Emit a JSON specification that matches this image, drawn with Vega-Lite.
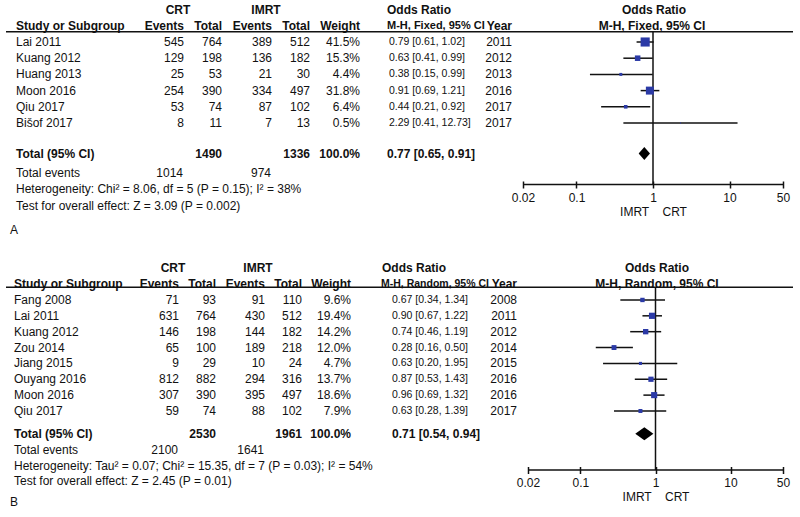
{
"$schema": "https://vega.github.io/schema/vega-lite/v6.json",
"width": 800, "height": 517, "padding": 0, "autosize": {"type": "none"},
"background": "white",
"config": {"view": {"stroke": null}, "text": {"font": "Liberation Sans", "fontSize": 12, "baseline": "middle", "color": "#111"}},
"datasets": {
 "studiesA": [
  {"row":1,"study":"Lai 2011","crt_e":545,"crt_t":764,"imrt_e":389,"imrt_t":512,"weight":0.415,"or":0.79,"lo":0.61,"hi":1.02,"ci":"0.79 [0.61, 1.02]","year":2011},
  {"row":2,"study":"Kuang 2012","crt_e":129,"crt_t":198,"imrt_e":136,"imrt_t":182,"weight":0.153,"or":0.63,"lo":0.41,"hi":0.99,"ci":"0.63 [0.41, 0.99]","year":2012},
  {"row":3,"study":"Huang 2013","crt_e":25,"crt_t":53,"imrt_e":21,"imrt_t":30,"weight":0.044,"or":0.38,"lo":0.15,"hi":0.99,"ci":"0.38 [0.15, 0.99]","year":2013},
  {"row":4,"study":"Moon 2016","crt_e":254,"crt_t":390,"imrt_e":334,"imrt_t":497,"weight":0.318,"or":0.91,"lo":0.69,"hi":1.21,"ci":"0.91 [0.69, 1.21]","year":2016},
  {"row":5,"study":"Qiu 2017","crt_e":53,"crt_t":74,"imrt_e":87,"imrt_t":102,"weight":0.064,"or":0.44,"lo":0.21,"hi":0.92,"ci":"0.44 [0.21, 0.92]","year":2017},
  {"row":6,"study":"Bišof 2017","crt_e":8,"crt_t":11,"imrt_e":7,"imrt_t":13,"weight":0.005,"or":2.29,"lo":0.41,"hi":12.73,"ci":"2.29 [0.41, 12.73]","year":2017}
 ],
 "totalA": [{"row":8,"label":"Total (95% CI)","crt_t":1490,"imrt_t":1336,"weight":1.0,"or":0.77,"lo":0.65,"hi":0.91,"ci":"0.77 [0.65, 0.91]"}],
 "eventsA": [{"row":9,"label":"Total events","crt":1014,"imrt":974}],
 "notesA": [
  {"row":10,"text":"Heterogeneity: Chi² = 8.06, df = 5 (P = 0.15); I² = 38%"},
  {"row":11,"text":"Test for overall effect: Z = 3.09 (P = 0.002)"}
 ],
 "studiesB": [
  {"row":1,"study":"Fang 2008","crt_e":71,"crt_t":93,"imrt_e":91,"imrt_t":110,"weight":0.096,"or":0.67,"lo":0.34,"hi":1.34,"ci":"0.67 [0.34, 1.34]","year":2008},
  {"row":2,"study":"Lai 2011","crt_e":631,"crt_t":764,"imrt_e":430,"imrt_t":512,"weight":0.194,"or":0.90,"lo":0.67,"hi":1.22,"ci":"0.90 [0.67, 1.22]","year":2011},
  {"row":3,"study":"Kuang 2012","crt_e":146,"crt_t":198,"imrt_e":144,"imrt_t":182,"weight":0.142,"or":0.74,"lo":0.46,"hi":1.19,"ci":"0.74 [0.46, 1.19]","year":2012},
  {"row":4,"study":"Zou 2014","crt_e":65,"crt_t":100,"imrt_e":189,"imrt_t":218,"weight":0.120,"or":0.28,"lo":0.16,"hi":0.50,"ci":"0.28 [0.16, 0.50]","year":2014},
  {"row":5,"study":"Jiang 2015","crt_e":9,"crt_t":29,"imrt_e":10,"imrt_t":24,"weight":0.047,"or":0.63,"lo":0.20,"hi":1.95,"ci":"0.63 [0.20, 1.95]","year":2015},
  {"row":6,"study":"Ouyang 2016","crt_e":812,"crt_t":882,"imrt_e":294,"imrt_t":316,"weight":0.137,"or":0.87,"lo":0.53,"hi":1.43,"ci":"0.87 [0.53, 1.43]","year":2016},
  {"row":7,"study":"Moon 2016","crt_e":307,"crt_t":390,"imrt_e":395,"imrt_t":497,"weight":0.186,"or":0.96,"lo":0.69,"hi":1.32,"ci":"0.96 [0.69, 1.32]","year":2016},
  {"row":8,"study":"Qiu 2017","crt_e":59,"crt_t":74,"imrt_e":88,"imrt_t":102,"weight":0.079,"or":0.63,"lo":0.28,"hi":1.39,"ci":"0.63 [0.28, 1.39]","year":2017}
 ],
 "totalB": [{"row":9,"label":"Total (95% CI)","crt_t":2530,"imrt_t":1961,"weight":1.0,"or":0.71,"lo":0.54,"hi":0.94,"ci":"0.71 [0.54, 0.94]"}],
 "eventsB": [{"row":10,"label":"Total events","crt":2100,"imrt":1641}],
 "notesB": [
  {"row":11,"text":"Heterogeneity: Tau² = 0.07; Chi² = 15.35, df = 7 (P = 0.03); I² = 54%"},
  {"row":12,"text":"Test for overall effect: Z = 2.45 (P = 0.01)"}
 ]
},
"layer": [
 {
  "layer": [
   {
    "layer": [
     {"data":{"values":[{}]},"mark":{"type":"text","align":"center","fontWeight":"bold","text":"CRT"},"encoding":{"x":{"datum":178,"type":"quantitative","scale":{"domain":[0,800],"range":[0,800],"nice":false,"zero":false},"axis":null},"y":{"datum":-1,"type":"quantitative","scale":{"domain":[-1,13],"range":[9.6,236.4],"nice":false,"zero":false},"axis":null}}},
     {"data":{"values":[{}]},"mark":{"type":"text","align":"center","fontWeight":"bold","text":"IMRT"},"encoding":{"x":{"datum":266,"type":"quantitative"},"y":{"datum":-1,"type":"quantitative"}}},
     {"data":{"values":[{}]},"mark":{"type":"text","align":"left","fontWeight":"bold","text":"Odds Ratio"},"encoding":{"x":{"datum":387,"type":"quantitative"},"y":{"datum":-1,"type":"quantitative"}}},
     {"data":{"values":[{}]},"mark":{"type":"text","align":"center","fontWeight":"bold","text":"Odds Ratio"},"encoding":{"x":{"datum":654,"type":"quantitative"},"y":{"datum":-1,"type":"quantitative"}}},
     {"data":{"values":[{}]},"mark":{"type":"text","align":"left","fontWeight":"bold","text":"Study or Subgroup"},"encoding":{"x":{"datum":16,"type":"quantitative"},"y":{"datum":0,"type":"quantitative"}}},
     {"data":{"values":[{}]},"mark":{"type":"text","align":"right","fontWeight":"bold","text":"Events"},"encoding":{"x":{"datum":184,"type":"quantitative"},"y":{"datum":0,"type":"quantitative"}}},
     {"data":{"values":[{}]},"mark":{"type":"text","align":"right","fontWeight":"bold","text":"Total"},"encoding":{"x":{"datum":222,"type":"quantitative"},"y":{"datum":0,"type":"quantitative"}}},
     {"data":{"values":[{}]},"mark":{"type":"text","align":"right","fontWeight":"bold","text":"Events"},"encoding":{"x":{"datum":272,"type":"quantitative"},"y":{"datum":0,"type":"quantitative"}}},
     {"data":{"values":[{}]},"mark":{"type":"text","align":"right","fontWeight":"bold","text":"Total"},"encoding":{"x":{"datum":310,"type":"quantitative"},"y":{"datum":0,"type":"quantitative"}}},
     {"data":{"values":[{}]},"mark":{"type":"text","align":"right","fontWeight":"bold","text":"Weight"},"encoding":{"x":{"datum":360,"type":"quantitative"},"y":{"datum":0,"type":"quantitative"}}},
     {"data":{"values":[{}]},"mark":{"type":"text","align":"left","fontWeight":"bold","fontSize":11,"text":"M-H, Fixed, 95% CI"},"encoding":{"x":{"datum":387,"type":"quantitative"},"y":{"datum":0,"type":"quantitative"}}},
     {"data":{"values":[{}]},"mark":{"type":"text","align":"right","fontWeight":"bold","text":"Year"},"encoding":{"x":{"datum":512,"type":"quantitative"},"y":{"datum":0,"type":"quantitative"}}},
     {"data":{"values":[{}]},"mark":{"type":"text","align":"center","fontWeight":"bold","text":"M-H, Fixed, 95% CI"},"encoding":{"x":{"datum":652,"type":"quantitative"},"y":{"datum":0,"type":"quantitative"}}},
     {"data":{"values":[{}]},"mark":{"type":"rule","color":"#111","strokeWidth":1.5},"encoding":{"x":{"datum":6,"type":"quantitative"},"x2":{"datum":793},"y":{"datum":0.36,"type":"quantitative"}}},
     {"data":{"name":"studiesA"},"mark":{"type":"text","align":"left"},"encoding":{"x":{"datum":16,"type":"quantitative"},"y":{"field":"row","type":"quantitative"},"text":{"field":"study","type":"nominal"}}},
     {"data":{"name":"studiesA"},"mark":{"type":"text","align":"right"},"encoding":{"x":{"datum":184,"type":"quantitative"},"y":{"field":"row","type":"quantitative"},"text":{"field":"crt_e","type":"nominal"}}},
     {"data":{"name":"studiesA"},"mark":{"type":"text","align":"right"},"encoding":{"x":{"datum":222,"type":"quantitative"},"y":{"field":"row","type":"quantitative"},"text":{"field":"crt_t","type":"nominal"}}},
     {"data":{"name":"studiesA"},"mark":{"type":"text","align":"right"},"encoding":{"x":{"datum":272,"type":"quantitative"},"y":{"field":"row","type":"quantitative"},"text":{"field":"imrt_e","type":"nominal"}}},
     {"data":{"name":"studiesA"},"mark":{"type":"text","align":"right"},"encoding":{"x":{"datum":310,"type":"quantitative"},"y":{"field":"row","type":"quantitative"},"text":{"field":"imrt_t","type":"nominal"}}},
     {"data":{"name":"studiesA"},"mark":{"type":"text","align":"right"},"encoding":{"x":{"datum":360,"type":"quantitative"},"y":{"field":"row","type":"quantitative"},"text":{"field":"weight","type":"quantitative","format":".1%"}}},
     {"data":{"name":"studiesA"},"mark":{"type":"text","align":"left","fontSize":10.5},"encoding":{"x":{"datum":389,"type":"quantitative"},"y":{"field":"row","type":"quantitative"},"text":{"field":"ci","type":"nominal"}}},
     {"data":{"name":"studiesA"},"mark":{"type":"text","align":"right"},"encoding":{"x":{"datum":512,"type":"quantitative"},"y":{"field":"row","type":"quantitative"},"text":{"field":"year","type":"nominal"}}},
     {"data":{"name":"totalA"},"mark":{"type":"text","align":"left","fontWeight":"bold","yOffset":-1},"encoding":{"x":{"datum":16,"type":"quantitative"},"y":{"field":"row","type":"quantitative"},"text":{"field":"label","type":"nominal"}}},
     {"data":{"name":"totalA"},"mark":{"type":"text","align":"right","fontWeight":"bold","yOffset":-1},"encoding":{"x":{"datum":222,"type":"quantitative"},"y":{"field":"row","type":"quantitative"},"text":{"field":"crt_t","type":"nominal"}}},
     {"data":{"name":"totalA"},"mark":{"type":"text","align":"right","fontWeight":"bold","yOffset":-1},"encoding":{"x":{"datum":310,"type":"quantitative"},"y":{"field":"row","type":"quantitative"},"text":{"field":"imrt_t","type":"nominal"}}},
     {"data":{"name":"totalA"},"mark":{"type":"text","align":"right","fontWeight":"bold","yOffset":-1},"encoding":{"x":{"datum":360,"type":"quantitative"},"y":{"field":"row","type":"quantitative"},"text":{"field":"weight","type":"quantitative","format":".1%"}}},
     {"data":{"name":"totalA"},"mark":{"type":"text","align":"left","fontWeight":"bold","yOffset":-1},"encoding":{"x":{"datum":387,"type":"quantitative"},"y":{"field":"row","type":"quantitative"},"text":{"field":"ci","type":"nominal"}}},
     {"data":{"name":"eventsA"},"mark":{"type":"text","align":"left","yOffset":1},"encoding":{"x":{"datum":16,"type":"quantitative"},"y":{"field":"row","type":"quantitative"},"text":{"field":"label","type":"nominal"}}},
     {"data":{"name":"eventsA"},"mark":{"type":"text","align":"right","yOffset":1},"encoding":{"x":{"datum":183,"type":"quantitative"},"y":{"field":"row","type":"quantitative"},"text":{"field":"crt","type":"nominal"}}},
     {"data":{"name":"eventsA"},"mark":{"type":"text","align":"right","yOffset":1},"encoding":{"x":{"datum":271,"type":"quantitative"},"y":{"field":"row","type":"quantitative"},"text":{"field":"imrt","type":"nominal"}}},
     {"data":{"name":"notesA"},"mark":{"type":"text","align":"left","yOffset":1.5},"encoding":{"x":{"datum":16,"type":"quantitative"},"y":{"field":"row","type":"quantitative"},"text":{"field":"text","type":"nominal"}}},
     {"data":{"values":[{}]},"mark":{"type":"text","align":"left","text":"A"},"encoding":{"x":{"datum":10,"type":"quantitative"},"y":{"datum":12.6,"type":"quantitative"}}}
    ]
   },
   {
    "layer": [
     {"data":{"values":[{}]},"mark":{"type":"rule","color":"#111","strokeWidth":1.5},"encoding":{"x":{"datum":1,"type":"quantitative","scale":{"type":"log","domain":[0.02,50],"range":[523,783],"nice":false},"axis":{"orient":"bottom","offset":-336,"values":[0.02,0.1,1,10,50],"domain":false,"ticks":true,"tickSize":7,"tickWidth":1.5,"tickColor":"#111","grid":false,"labelFont":"Liberation Sans","labelFontSize":12,"labelColor":"#111","labelPadding":4,"labelFlush":false,"labelOverlap":false,"labelExpr":"format(datum.value, '~g')","title":"IMRT\u00a0\u00a0\u00a0\u00a0CRT","titleFont":"Liberation Sans","titleFontSize":12,"titleFontWeight":"normal","titleColor":"#111","titlePadding":3}},"y":{"datum":0.36,"type":"quantitative","scale":{"domain":[-1,13],"range":[9.6,236.4],"nice":false,"zero":false},"axis":null},"y2":{"datum":9.8}}},
     {"data":{"values":[{}]},"mark":{"type":"rule","color":"#111","strokeWidth":1.5},"encoding":{"x":{"datum":0.02,"type":"quantitative"},"x2":{"datum":50},"y":{"datum":9.8,"type":"quantitative"}}},
     {"data":{"name":"studiesA"},"mark":{"type":"rule","color":"#111","strokeWidth":1.5},"encoding":{"x":{"field":"lo","type":"quantitative"},"x2":{"field":"hi"},"y":{"field":"row","type":"quantitative"}}},
     {"data":{"name":"studiesA"},"mark":{"type":"square","filled":true,"opacity":1,"color":"#2b3aa6"},"encoding":{"x":{"field":"or","type":"quantitative"},"y":{"field":"row","type":"quantitative"},"size":{"field":"weight","type":"quantitative","scale":{"domain":[0,0.5],"range":[0,100]},"legend":null}}},
     {"data":{"name":"totalA"},"mark":{"type":"point","filled":true,"opacity":1,"color":"#000","shape":"M-1,0L0,-1.15L1,0L0,1.15Z","size":128,"yOffset":-2},"encoding":{"x":{"field":"or","type":"quantitative"},"y":{"field":"row","type":"quantitative"}}}
    ]
   }
  ],
  "resolve": {"scale": {"x": "independent"}}
 },
 {
  "layer": [
   {
    "layer": [
     {"data":{"values":[{}]},"mark":{"type":"text","align":"center","fontWeight":"bold","text":"CRT"},"encoding":{"x":{"datum":173,"type":"quantitative","scale":{"domain":[0,800],"range":[0,800],"nice":false,"zero":false},"axis":null},"y":{"datum":-1,"type":"quantitative","scale":{"domain":[-1,14],"range":[268.24,506.14],"nice":false,"zero":false},"axis":null}}},
     {"data":{"values":[{}]},"mark":{"type":"text","align":"center","fontWeight":"bold","text":"IMRT"},"encoding":{"x":{"datum":258,"type":"quantitative"},"y":{"datum":-1,"type":"quantitative"}}},
     {"data":{"values":[{}]},"mark":{"type":"text","align":"left","fontWeight":"bold","text":"Odds Ratio"},"encoding":{"x":{"datum":382,"type":"quantitative"},"y":{"datum":-1,"type":"quantitative"}}},
     {"data":{"values":[{}]},"mark":{"type":"text","align":"center","fontWeight":"bold","text":"Odds Ratio"},"encoding":{"x":{"datum":657,"type":"quantitative"},"y":{"datum":-1,"type":"quantitative"}}},
     {"data":{"values":[{}]},"mark":{"type":"text","align":"left","fontWeight":"bold","text":"Study or Subgroup"},"encoding":{"x":{"datum":14,"type":"quantitative"},"y":{"datum":0,"type":"quantitative"}}},
     {"data":{"values":[{}]},"mark":{"type":"text","align":"right","fontWeight":"bold","text":"Events"},"encoding":{"x":{"datum":179,"type":"quantitative"},"y":{"datum":0,"type":"quantitative"}}},
     {"data":{"values":[{}]},"mark":{"type":"text","align":"right","fontWeight":"bold","text":"Total"},"encoding":{"x":{"datum":216,"type":"quantitative"},"y":{"datum":0,"type":"quantitative"}}},
     {"data":{"values":[{}]},"mark":{"type":"text","align":"right","fontWeight":"bold","text":"Events"},"encoding":{"x":{"datum":265,"type":"quantitative"},"y":{"datum":0,"type":"quantitative"}}},
     {"data":{"values":[{}]},"mark":{"type":"text","align":"right","fontWeight":"bold","text":"Total"},"encoding":{"x":{"datum":302,"type":"quantitative"},"y":{"datum":0,"type":"quantitative"}}},
     {"data":{"values":[{}]},"mark":{"type":"text","align":"right","fontWeight":"bold","text":"Weight"},"encoding":{"x":{"datum":351,"type":"quantitative"},"y":{"datum":0,"type":"quantitative"}}},
     {"data":{"values":[{}]},"mark":{"type":"text","align":"left","fontWeight":"bold","fontSize":10.5,"text":"M-H, Random, 95% CI"},"encoding":{"x":{"datum":381,"type":"quantitative"},"y":{"datum":0,"type":"quantitative"}}},
     {"data":{"values":[{}]},"mark":{"type":"text","align":"right","fontWeight":"bold","text":"Year"},"encoding":{"x":{"datum":517,"type":"quantitative"},"y":{"datum":0,"type":"quantitative"}}},
     {"data":{"values":[{}]},"mark":{"type":"text","align":"center","fontWeight":"bold","text":"M-H, Random, 95% CI"},"encoding":{"x":{"datum":657,"type":"quantitative"},"y":{"datum":0,"type":"quantitative"}}},
     {"data":{"values":[{}]},"mark":{"type":"rule","color":"#111","strokeWidth":1.5},"encoding":{"x":{"datum":6,"type":"quantitative"},"x2":{"datum":793},"y":{"datum":0.2,"type":"quantitative"}}},
     {"data":{"name":"studiesB"},"mark":{"type":"text","align":"left"},"encoding":{"x":{"datum":14,"type":"quantitative"},"y":{"field":"row","type":"quantitative"},"text":{"field":"study","type":"nominal"}}},
     {"data":{"name":"studiesB"},"mark":{"type":"text","align":"right"},"encoding":{"x":{"datum":179,"type":"quantitative"},"y":{"field":"row","type":"quantitative"},"text":{"field":"crt_e","type":"nominal"}}},
     {"data":{"name":"studiesB"},"mark":{"type":"text","align":"right"},"encoding":{"x":{"datum":216,"type":"quantitative"},"y":{"field":"row","type":"quantitative"},"text":{"field":"crt_t","type":"nominal"}}},
     {"data":{"name":"studiesB"},"mark":{"type":"text","align":"right"},"encoding":{"x":{"datum":265,"type":"quantitative"},"y":{"field":"row","type":"quantitative"},"text":{"field":"imrt_e","type":"nominal"}}},
     {"data":{"name":"studiesB"},"mark":{"type":"text","align":"right"},"encoding":{"x":{"datum":302,"type":"quantitative"},"y":{"field":"row","type":"quantitative"},"text":{"field":"imrt_t","type":"nominal"}}},
     {"data":{"name":"studiesB"},"mark":{"type":"text","align":"right"},"encoding":{"x":{"datum":351,"type":"quantitative"},"y":{"field":"row","type":"quantitative"},"text":{"field":"weight","type":"quantitative","format":".1%"}}},
     {"data":{"name":"studiesB"},"mark":{"type":"text","align":"left","fontSize":10.5},"encoding":{"x":{"datum":392,"type":"quantitative"},"y":{"field":"row","type":"quantitative"},"text":{"field":"ci","type":"nominal"}}},
     {"data":{"name":"studiesB"},"mark":{"type":"text","align":"right"},"encoding":{"x":{"datum":517,"type":"quantitative"},"y":{"field":"row","type":"quantitative"},"text":{"field":"year","type":"nominal"}}},
     {"data":{"name":"totalB"},"mark":{"type":"text","align":"left","fontWeight":"bold","yOffset":7},"encoding":{"x":{"datum":14,"type":"quantitative"},"y":{"field":"row","type":"quantitative"},"text":{"field":"label","type":"nominal"}}},
     {"data":{"name":"totalB"},"mark":{"type":"text","align":"right","fontWeight":"bold","yOffset":7},"encoding":{"x":{"datum":216,"type":"quantitative"},"y":{"field":"row","type":"quantitative"},"text":{"field":"crt_t","type":"nominal"}}},
     {"data":{"name":"totalB"},"mark":{"type":"text","align":"right","fontWeight":"bold","yOffset":7},"encoding":{"x":{"datum":302,"type":"quantitative"},"y":{"field":"row","type":"quantitative"},"text":{"field":"imrt_t","type":"nominal"}}},
     {"data":{"name":"totalB"},"mark":{"type":"text","align":"right","fontWeight":"bold","yOffset":7},"encoding":{"x":{"datum":351,"type":"quantitative"},"y":{"field":"row","type":"quantitative"},"text":{"field":"weight","type":"quantitative","format":".1%"}}},
     {"data":{"name":"totalB"},"mark":{"type":"text","align":"left","fontWeight":"bold","yOffset":7},"encoding":{"x":{"datum":392,"type":"quantitative"},"y":{"field":"row","type":"quantitative"},"text":{"field":"ci","type":"nominal"}}},
     {"data":{"name":"eventsB"},"mark":{"type":"text","align":"left","yOffset":7},"encoding":{"x":{"datum":14,"type":"quantitative"},"y":{"field":"row","type":"quantitative"},"text":{"field":"label","type":"nominal"}}},
     {"data":{"name":"eventsB"},"mark":{"type":"text","align":"right","yOffset":7},"encoding":{"x":{"datum":178,"type":"quantitative"},"y":{"field":"row","type":"quantitative"},"text":{"field":"crt","type":"nominal"}}},
     {"data":{"name":"eventsB"},"mark":{"type":"text","align":"right","yOffset":7},"encoding":{"x":{"datum":264,"type":"quantitative"},"y":{"field":"row","type":"quantitative"},"text":{"field":"imrt","type":"nominal"}}},
     {"data":{"name":"notesB"},"mark":{"type":"text","align":"left","yOffset":7},"encoding":{"x":{"datum":14,"type":"quantitative"},"y":{"field":"row","type":"quantitative"},"text":{"field":"text","type":"nominal"}}},
     {"data":{"values":[{}]},"mark":{"type":"text","align":"left","text":"B"},"encoding":{"x":{"datum":10,"type":"quantitative"},"y":{"datum":13.74,"type":"quantitative"}}}
    ]
   },
   {
    "layer": [
     {"data":{"values":[{}]},"mark":{"type":"rule","color":"#111","strokeWidth":1.5},"encoding":{"x":{"datum":1,"type":"quantitative","scale":{"type":"log","domain":[0.02,50],"range":[528,783],"nice":false},"axis":{"orient":"bottom","offset":-50.5,"values":[0.02,0.1,1,10,50],"domain":false,"ticks":true,"tickSize":7,"tickWidth":1.5,"tickColor":"#111","grid":false,"labelFont":"Liberation Sans","labelFontSize":12,"labelColor":"#111","labelPadding":4,"labelFlush":false,"labelOverlap":false,"labelExpr":"format(datum.value, '~g')","title":"IMRT\u00a0\u00a0\u00a0\u00a0CRT","titleFont":"Liberation Sans","titleFontSize":12,"titleFontWeight":"normal","titleColor":"#111","titlePadding":3}},"y":{"datum":0.2,"type":"quantitative","scale":{"domain":[-1,14],"range":[268.24,506.14],"nice":false,"zero":false},"axis":null},"y2":{"datum":11.72}}},
     {"data":{"values":[{}]},"mark":{"type":"rule","color":"#111","strokeWidth":1.5},"encoding":{"x":{"datum":0.02,"type":"quantitative"},"x2":{"datum":50},"y":{"datum":11.72,"type":"quantitative"}}},
     {"data":{"name":"studiesB"},"mark":{"type":"rule","color":"#111","strokeWidth":1.5},"encoding":{"x":{"field":"lo","type":"quantitative"},"x2":{"field":"hi"},"y":{"field":"row","type":"quantitative"}}},
     {"data":{"name":"studiesB"},"mark":{"type":"square","filled":true,"opacity":1,"color":"#2b3aa6"},"encoding":{"x":{"field":"or","type":"quantitative"},"y":{"field":"row","type":"quantitative"},"size":{"field":"weight","type":"quantitative","scale":{"domain":[0,0.5],"range":[0,100]},"legend":null}}},
     {"data":{"name":"totalB"},"mark":{"type":"point","filled":true,"opacity":1,"color":"#000","shape":"M-1,0L0,-0.72L1,0L0,0.72Z","size":328,"yOffset":7},"encoding":{"x":{"field":"or","type":"quantitative"},"y":{"field":"row","type":"quantitative"}}}
    ]
   }
  ],
  "resolve": {"scale": {"x": "independent"}}
 }
],
"resolve": {"scale": {"x": "independent", "y": "independent"}}
}
